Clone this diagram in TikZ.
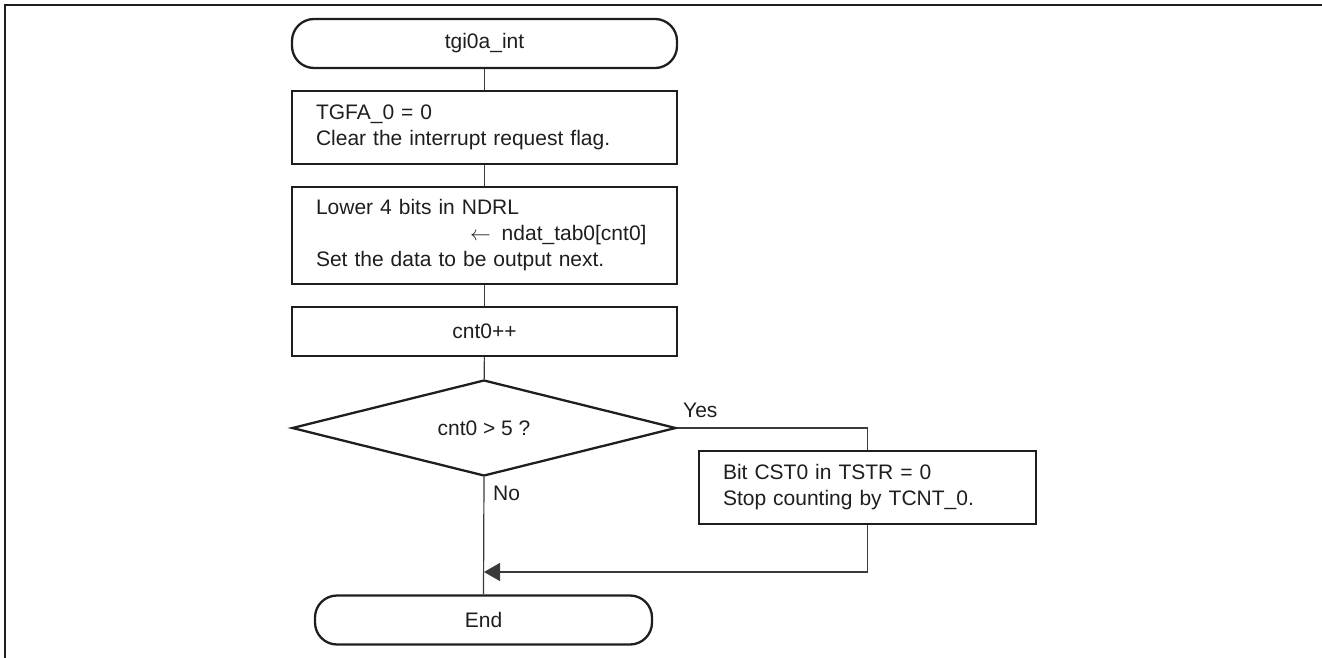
\documentclass[tikz,border=0pt]{standalone}
\usepackage{fontspec}
\setmainfont{Liberation Sans}
\usetikzlibrary{shapes.geometric,arrows.meta}
\definecolor{ink}{HTML}{1E1E1E}
\definecolor{wire}{HTML}{3A3A3A}
\begin{document}
\begin{tikzpicture}[x=1pt,y=-1pt,
  every node/.style={font=\fontsize{21}{26}\selectfont, text=ink},
  terminal/.style={draw=ink, line width=2.3pt, rounded corners=22pt,
    minimum height=49pt, inner sep=0pt},
  procbox/.style={draw=ink, line width=2.3pt, minimum width=385pt,
    text width=337pt, inner xsep=24pt, inner ysep=0pt, align=left},
  decision/.style={draw=ink, line width=2.3pt, shape=diamond, shape aspect=4,
    minimum width=384pt, minimum height=96pt, inner sep=0pt},
  link/.style={draw=wire, line width=1.2pt},
  lbl/.style={inner sep=0pt, anchor=west}]
\useasboundingbox (0,0) rectangle (1322,658);
% frame
\draw[line width=2pt, ink] (5,658) -- (5,5) -- (1322,5);

\node[terminal, minimum width=385pt] (start) at (484.5,43.5) {tgi0a\_int};
\node[procbox, minimum height=73pt] (clr) at (484.5,127.5)
  {TGFA\_0 = 0\\Clear the interrupt request flag.};
\node[procbox, minimum height=97pt] (ndr) at (484.5,235.5)
  {Lower 4 bits in NDRL\\\hspace*{154pt}$\leftarrow$\hspace{11pt}ndat\_tab0[cnt0]\\Set the data to be output next.};
\node[procbox, minimum height=49pt, align=center] (inc) at (484.5,331.5) {cnt0++};
\node[decision] (dec) at (484,428) {cnt0 > 5 ?};
\node[procbox, minimum width=337pt, text width=289pt, minimum height=73pt] (stop) at (867.5,487.5)
  {Bit CST0 in TSTR = 0\\Stop counting by TCNT\_0.};
\node[terminal, minimum width=337pt] (fin) at (483.5,620) {End};
\coordinate (join) at (484,572);

\node[lbl] (yes) at (683,410) {Yes};
\node[lbl] (no) at (493,493) {No};

\draw[link] (start) -- (clr);
\draw[link] (clr) -- (ndr);
\draw[link] (ndr) -- (inc);
\draw[link] (inc) -- (dec);
\draw[link] (dec.east) -| (stop.north);
\draw[link, -{Triangle[length=16pt,width=18pt]}] (stop.south) |- (join);
\draw[link] (dec.south) -- (fin.north);
\end{tikzpicture}
\end{document}
